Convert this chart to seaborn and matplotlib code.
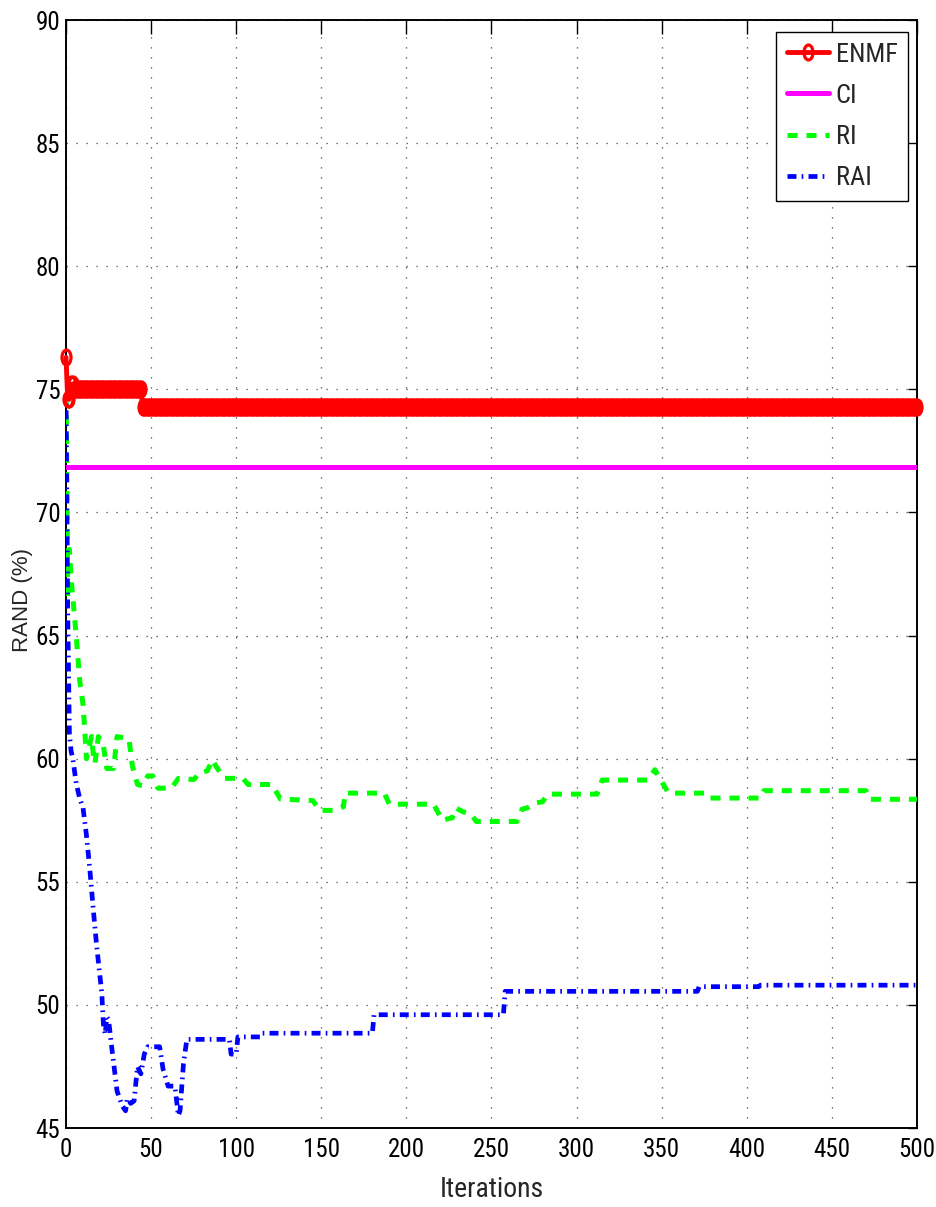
import numpy as np
import pandas as pd
import matplotlib
matplotlib.use("Agg")
import matplotlib.pyplot as plt
from matplotlib.path import Path
import seaborn as sns

# ---- data -------------------------------------------------------------
# ENMF: value held per iteration (level, number of iterations at that level)
enmf_levels = [76.3, 74.6, 75.2, 75.0, 74.3]
enmf_runs = [1, 2, 2, 40, 456]

# CI: constant reference
ci_iters = [0, 500]
ci_values = [71.85, 71.85]

# RI
ri_iters = [0, 1, 2, 3, 6, 8, 10, 11, 12, 13, 15, 16, 17, 19, 22, 24, 28, 30,
            37, 39, 42, 45, 48, 51, 54, 62, 66, 75, 79, 83, 86, 88, 93, 104,
            107, 121, 126, 145, 149, 157, 163, 164, 187, 190, 216, 221, 227,
            229, 233, 238, 241, 265, 268, 271, 276, 280, 283, 312, 315, 342,
            346, 348, 354, 376, 378, 408, 410, 470, 472, 500]
ri_values = [75.5, 66.5, 68.5, 67.3, 65.0, 63.2, 62.2, 61.2, 60.0, 60.3, 60.9,
             60.2, 59.8, 60.9, 60.5, 59.6, 59.6, 60.9, 60.8, 59.7, 58.95, 58.9,
             59.3, 59.3, 58.8, 58.8, 59.2, 59.15, 59.45, 59.5, 59.95, 59.7,
             59.2, 59.2, 58.95, 58.95, 58.36, 58.3, 57.9, 57.9, 58.05, 58.6,
             58.6, 58.15, 58.15, 57.5, 57.6, 58.0, 57.85, 57.75, 57.45, 57.45,
             57.95, 58.0, 58.2, 58.25, 58.56, 58.56, 59.13, 59.13, 59.55, 59.3,
             58.6, 58.6, 58.4, 58.4, 58.7, 58.7, 58.35, 58.35]

# RAI
rai_iters = [0, 1, 2, 3, 4, 6, 8, 10, 12, 14, 16, 18, 21, 22, 23, 24, 25, 27,
             30, 33, 35, 36, 38, 40, 42, 44, 46, 48, 55, 57, 60, 64, 66, 67,
             69, 71, 96, 97, 100, 101, 114, 115, 180, 181, 257, 258, 371, 372,
             407, 408, 500]
rai_values = [75.0, 66.0, 61.0, 60.3, 60.0, 59.0, 58.4, 58.0, 56.9, 55.5, 53.9,
              52.4, 50.5, 49.2, 48.8, 49.5, 49.4, 48.2, 46.5, 45.9, 45.7, 46.2,
              46.0, 46.1, 47.5, 47.2, 48.0, 48.3, 48.3, 47.4, 46.7, 46.7, 45.5,
              45.7, 47.6, 48.6, 48.6, 48.0, 48.0, 48.7, 48.7, 48.85, 48.85,
              49.6, 49.6, 50.55, 50.55, 50.74, 50.74, 50.8, 50.8]

x_ticks = [0, 50, 100, 150, 200, 250, 300, 350, 400, 450, 500]
y_ticks = [45, 50, 55, 60, 65, 70, 75, 80, 85, 90]

enmf_values = np.repeat(enmf_levels, enmf_runs)
enmf = pd.DataFrame({"iter": np.arange(len(enmf_values)), "val": enmf_values})

# ---- style ------------------------------------------------------------
sns.set_style("white")
narrow = ["Roboto Condensed", "Archivo Narrow", "PT Sans Narrow",
          "Liberation Sans", "DejaVu Sans"]
plt.rcParams["font.family"] = narrow

fig = plt.figure(figsize=(9.37, 12.07), dpi=100)
W, H = 937, 1207
ax = fig.add_axes([66 / W, 1 - 1128 / H, (917 - 66) / W, (1128 - 20) / H])

# slim oval marker (circle squeezed horizontally)
circ = Path.unit_circle()
oval = Path(circ.vertices * np.array([0.6, 1.0]), circ.codes)

sns.lineplot(data=enmf, x="iter", y="val", ax=ax, color="red", lw=3.5,
             marker=oval, markersize=10.8, markeredgewidth=2.3,
             markerfacecolor="none", markeredgecolor="red",
             estimator=None, sort=False, label="ENMF", clip_on=False, zorder=5)
sns.lineplot(x=ci_iters, y=ci_values, ax=ax, color="#ff00ff", lw=3.6,
             estimator=None, sort=False, label="CI", zorder=4)
sns.lineplot(x=ri_iters, y=ri_values, ax=ax, color="#00ff00", lw=3.6,
             linestyle=(0, (2.0, 1.8)), dash_capstyle="butt",
             estimator=None, sort=False, label="RI", zorder=3)
sns.lineplot(x=rai_iters, y=rai_values, ax=ax, color="#0000ff", lw=3.4,
             linestyle=(0, (1.9, 1.1, 0.35, 1.1)), dash_capstyle="butt",
             estimator=None, sort=False, label="RAI", zorder=3)

ax.set_xlim(0, 500)
ax.set_ylim(45, 90)
ax.set_xticks(x_ticks)
ax.set_yticks(y_ticks)
ax.set_xticklabels([str(t) for t in x_ticks])
ax.set_yticklabels([str(t) for t in y_ticks])

ax.grid(True, color="#444444", linestyle=(0, (1, 7)), lw=0.9)
for s in ax.spines.values():
    s.set_visible(True)
    s.set_color("black")
    s.set_linewidth(1.4)

ax.tick_params(axis="both", which="major", direction="in", top=True,
               right=True, colors="black", labelsize=18, width=1.0)
ax.tick_params(axis="x", length=10, pad=7)
ax.tick_params(axis="y", length=6.5, pad=4)

ax.set_xlabel("Iterations", fontsize=20, labelpad=10)
ax.set_ylabel("RAND (%)", fontsize=16, family=["Liberation Sans", "DejaVu Sans"])
ax.yaxis.set_label_coords(-33 / (917 - 66), (1128 - 600) / (1128 - 20))

leg = ax.legend(loc="upper right", bbox_to_anchor=(908 / W, 1 - 32 / H),
                bbox_transform=fig.transFigure, borderaxespad=0,
                fontsize=19, handlelength=1.6, handletextpad=0.25,
                labelspacing=0.65, borderpad=0.4, fancybox=False,
                framealpha=1, edgecolor="black", numpoints=1)
leg.get_frame().set_linewidth(1.0)

fig.savefig("out.png", dpi=100, facecolor="white")
